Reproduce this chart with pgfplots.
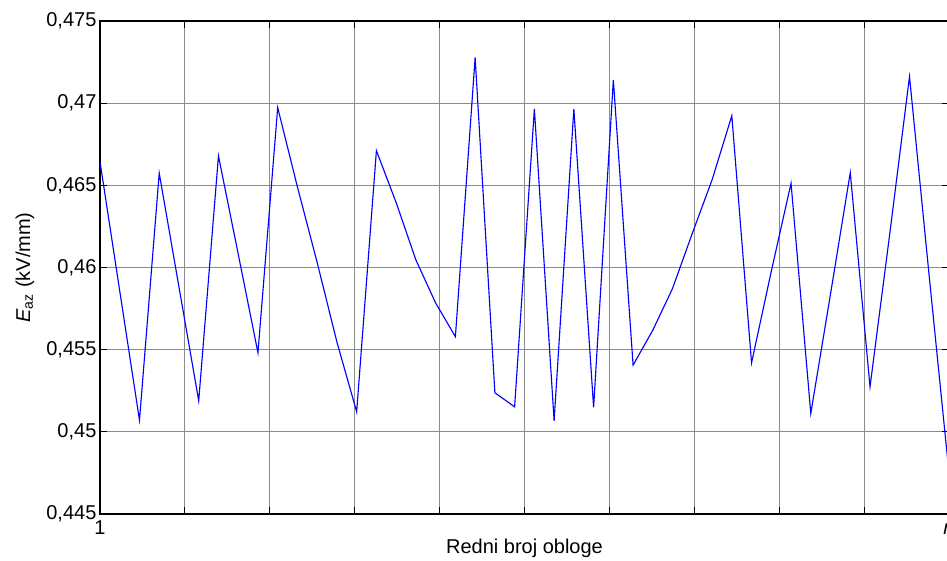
\documentclass[border=0pt]{standalone}
\usepackage{pgfplots}
\pgfplotsset{compat=1.18}
\usepackage{fontspec}
\setmainfont{Liberation Sans}
\pgfplotstableread{
x y
1 0.46644
2 0.45857
3 0.45071
4 0.46574
5 0.45881
6 0.45189
7 0.46679
8 0.46082
9 0.45481
10 0.46973
11 0.46490
12 0.46030
13 0.45546
14 0.45122
15 0.46711
16 0.46395
17 0.46046
18 0.45784
19 0.45579
20 0.47278
21 0.45238
22 0.45152
23 0.46965
24 0.45067
25 0.46965
26 0.45149
27 0.47142
28 0.45406
29 0.45619
30 0.45873
31 0.46208
32 0.46533
33 0.46923
34 0.45420
35 0.45977
36 0.46513
37 0.45112
38 0.45839
39 0.46577
40 0.45274
41 0.46205
42 0.47162
43 0.45944
44 0.44750
}\datatable
\begin{document}
\fontsize{15}{18}\selectfont
\begin{tikzpicture}
\begin{axis}[
  at={(0,0)}, anchor=south west,
  scale only axis, width=636.75pt, height=369.75pt,
  xmin=1, xmax=44, ymin=0.445, ymax=0.475,
  xtick={1,5.3,9.6,13.9,18.2,22.5,26.8,31.1,35.4,39.7,44},
  xticklabels={1,,,,,,,,,,\textit{n}},
  ytick={0.445,0.450,0.455,0.460,0.465,0.470,0.475},
  yticklabels={{0,445},{0,45},{0,455},{0,46},{0,465},{0,47},{0,475}},
  grid=major,
  grid style={line width=0.6pt, color=black!45},
  tick align=inside,
  major tick length=5.25pt,
  tick style={black, line width=0.75pt},
  axis line style={line width=0.9pt},
  tick label style={font=\fontsize{15}{18}\selectfont},
  label style={font=\fontsize{15}{18}\selectfont},
  xticklabel style={anchor=base, inner sep=0pt, yshift=-15pt},
  yticklabel style={anchor=east, inner sep=0pt, xshift=-2.5pt},
  xlabel={Redni broj obloge},
  xlabel style={at={(axis description cs:0.5,0)}, anchor=base, yshift=-29.25pt},
  ylabel={\textit{E}\textsubscript{az} (kV/mm)},
  ylabel style={at={(axis description cs:-0.0824,0.5)}, anchor=base, rotate=0},
]
\addplot[color={rgb,255:red,0;green,0;blue,255}, line width=0.85pt] table[x=x,y=y] {\datatable};
\end{axis}
\pgfresetboundingbox
\path[use as bounding box] (-75pt,-35.25pt) rectangle (635.25pt,385.5pt);
\end{tikzpicture}
\end{document}
